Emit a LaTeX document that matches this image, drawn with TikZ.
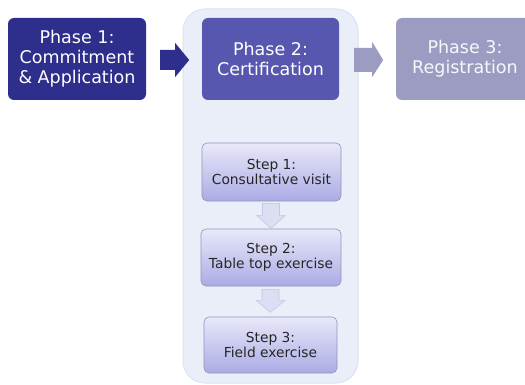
\documentclass[tikz,border=0pt]{standalone}
\usepackage{fontspec}
\setmainfont{DejaVu Sans}
\usetikzlibrary{calc}
\definecolor{phaseone}{HTML}{2E2E8C}
\definecolor{phasetwo}{HTML}{5757B0}
\definecolor{phasethree}{HTML}{9C9CC2}
\definecolor{contfill}{HTML}{E9EEF9}
\definecolor{contdraw}{HTML}{DCE2F2}
\definecolor{steptop}{HTML}{E8E8FA}
\definecolor{stepbot}{HTML}{ABABE5}
\definecolor{stepdraw}{HTML}{9494BC}
\definecolor{downfill}{HTML}{DCDEF3}
\definecolor{downdraw}{HTML}{C4C7E3}
\begin{document}
\begin{tikzpicture}[x=1pt,y=-1pt,
  phasebox/.style={rounded corners=6pt, minimum width=138pt, minimum height=82pt,
    inner sep=0pt, text=white, align=center,
    font=\fontsize{17.5}{20}\selectfont},
  stepbox/.style={rounded corners=5pt, draw=stepdraw, line width=0.6pt,
    top color=steptop, bottom color=stepbot, inner sep=0pt, align=center,
    text=black!85, font=\fontsize{13.8}{15.5}\selectfont},
  downarrow/.style={fill=downfill, draw=downdraw, line width=0.6pt, line join=miter}
  ]
\useasboundingbox (0,0) rectangle (525,385);
\clip (0,0) rectangle (525,385);
% container
\node[draw=contdraw, fill=contfill, line width=1pt, rounded corners=22pt,
  minimum width=175pt, minimum height=374pt, inner sep=0pt] (cont) at (270.5,196) {};
% phases
\node[phasebox, fill=phaseone] (p1) at (77,59) {Phase 1:\\Commitment\\\& Application};
\node[phasebox, fill=phasetwo, minimum width=137pt] (p2) at (270.5,59) {Phase 2:\\Certification};
\node[phasebox, fill=phasethree, text=white!92!phasethree] (p3) at (465,59) {Phase 3:\\Registration};
% steps
\node[stepbox, minimum width=139pt, minimum height=58pt] (s1) at (271.5,172) {Step 1:\\Consultative visit};
\node[stepbox, minimum width=140pt, minimum height=57pt] (s2) at (271,257.5) {Step 2:\\Table top exercise};
\node[stepbox, minimum width=133pt, minimum height=56pt] (s3) at (270.5,345) {Step 3:\\Field exercise};
% right arrows (tail points)
\coordinate (a1) at ($(p1.east)+(14,1)$);
\coordinate (a2) at ($(p2.east)+(15,1)$);
\fill[phaseone] (a1) ++(0,-10) -- ++(15,0) -- ++(0,-7) -- ++(14,17) -- ++(-14,17) -- ++(0,-7) -- ++(-15,0) -- cycle;
\fill[phasethree] (a2) ++(0,-12) -- ++(18,0) -- ++(0,-6) -- ++(11,18) -- ++(-11,17) -- ++(0,-5) -- ++(-18,0) -- cycle;
% down arrows
\coordinate (d1) at ($(s1.south)+(-0.5,2)$);
\coordinate (d2) at ($(s2.south)+(-0.5,3)$);
\draw[downarrow] (d1) ++(-8.5,0) -- ++(17,0) -- ++(0,12) -- ++(6,0) -- ++(-14.5,13) -- ++(-14.5,-13) -- ++(6,0) -- cycle;
\draw[downarrow] (d2) ++(-8.5,0) -- ++(17,0) -- ++(0,11) -- ++(6,0) -- ++(-14.5,12) -- ++(-14.5,-12) -- ++(6,0) -- cycle;
\end{tikzpicture}
\end{document}
